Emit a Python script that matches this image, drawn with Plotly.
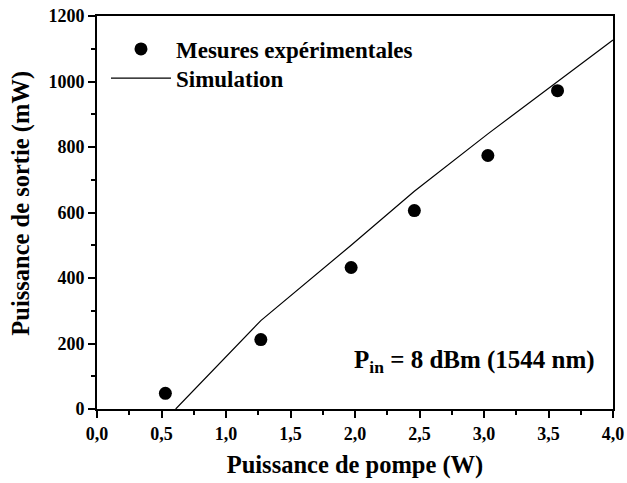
import plotly.graph_objects as go

# Measured data
meas_x = [0.53, 1.27, 1.97, 2.46, 3.03, 3.57]
meas_y = [48, 212, 432, 606, 774, 972]

# Simulation curve
sim_x = [0.61, 1.27, 1.97, 2.46, 3.03, 3.57, 4.0]
sim_y = [0, 270, 500, 665, 840, 1000, 1127]

x_ticks = [0.0, 0.5, 1.0, 1.5, 2.0, 2.5, 3.0, 3.5, 4.0]
y_ticks = [0, 200, 400, 600, 800, 1000, 1200]

FONT = "Liberation Serif"

fig = go.Figure()
fig.add_trace(go.Scatter(
    x=meas_x, y=meas_y, mode="markers", name="<b>Mesures expérimentales</b>",
    marker=dict(color="black", size=13), legend="legend", cliponaxis=False))
fig.add_trace(go.Scatter(
    x=sim_x, y=sim_y, mode="lines", name="<b>Simulation</b>",
    line=dict(color="black", width=1.2), legend="legend2"))

axis_common = dict(
    showline=True, linecolor="black", linewidth=2, mirror=True,
    ticks="outside", tickcolor="black", tickwidth=1.5,
    showgrid=False, zeroline=False, automargin=False,
    tickfont=dict(family=FONT, size=18, color="black", weight="bold"),
)

fig.update_xaxes(
    range=[0, 4], tickvals=x_ticks, tickformat=".1f", ticklen=7,
    minor=dict(dtick=0.25, ticklen=4, ticks="outside", tickcolor="black", tickwidth=1.5),
    title=dict(text="<b>Puissance de pompe (W)</b>", standoff=13,
               font=dict(family=FONT, size=24.5, color="black")),
    **axis_common)
fig.update_yaxes(
    range=[0, 1200], tickvals=y_ticks, ticklen=7,
    minor=dict(dtick=100, ticklen=4, ticks="outside", tickcolor="black", tickwidth=1.5),
    title=dict(text="&nbsp;&nbsp;&nbsp;<b>Puissance de sortie (mW)</b>", standoff=12,
               font=dict(family=FONT, size=24.5, color="black")),
    **axis_common)

fig.add_annotation(
    x=0.969, y=0.12, xref="paper", yref="paper", xanchor="right", yanchor="middle",
    text="<b>P<sub>in</sub> = 8 dBm (1544 nm)</b>", showarrow=False,
    font=dict(family=FONT, size=25, color="black"))

leg_common = dict(x=0.0174, xanchor="left", yanchor="middle",
                  bgcolor="rgba(0,0,0,0)", itemwidth=60,
                  font=dict(family=FONT, size=23, color="black"))

fig.update_layout(
    width=627, height=483,
    margin=dict(l=97, r=14, t=16, b=74),
    paper_bgcolor="white", plot_bgcolor="white",
    separators=",.",
    showlegend=True,
    legend=dict(y=0.916, **leg_common),
    legend2=dict(y=0.842, **leg_common),
)

fig.write_html("out.html")
